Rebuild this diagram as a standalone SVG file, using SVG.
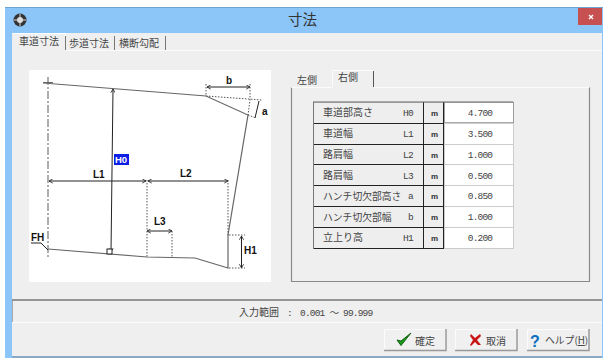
<svg xmlns="http://www.w3.org/2000/svg" width="603" height="358" viewBox="0 0 603 358">
<style>
text{font-family:"Noto Sans CJK JP","Liberation Sans",sans-serif;font-size:10px;fill:#444}
.m{font-family:"Liberation Mono","Noto Sans CJK JP",monospace;font-size:9.500px;fill:#444;letter-spacing:-.8px}
.u{font-family:"Liberation Sans",sans-serif;font-weight:bold;font-size:8px;fill:#333}
.b{font-family:"Liberation Sans",sans-serif;font-weight:bold;font-size:10px;fill:#111}
.s{fill:none;stroke:#222;stroke-width:1}
.g{fill:none;stroke:#666;stroke-width:1.200}
.d{fill:none;stroke:#555;stroke-width:1;stroke-dasharray:1.500 1.500}
.c{fill:#eeeeee;stroke:#bbb;stroke-width:1}
.v{fill:#fff;stroke:#ccc;stroke-width:1}
.k{fill:none;stroke:#222;stroke-width:1}
.btn{fill:#f0f0f0;stroke:#fbfbfb;stroke-width:1}
.bs{fill:none;stroke:#999;stroke-width:1.500}
</style>
<defs>
<marker id="a" viewBox="0 0 6 6" refX="5.500" refY="3" markerWidth="5" markerHeight="5" orient="auto-start-reverse"><path d="M1 .5L5.500 3L1 5.500" fill="none" stroke="#222" stroke-width="1"/></marker>
</defs>
<rect width="603" height="358" fill="#fff"/>
<rect x="5" y="7" width="598" height="351" fill="#8cc5f8"/>
<rect x="5" y="7" width="598" height="1" fill="#6fa3cc"/>
<rect x="12" y="33" width="590" height="324" fill="#efefef"/>
<rect x="12" y="356" width="590" height="2" fill="#8aa9c4"/>
<g id="title">
<circle cx="20" cy="20" r="6.500" fill="#333"/><circle cx="20" cy="20" r="3" fill="#ddd"/><path d="M14 20H26M20 14V26" stroke="#ddd" stroke-width="1"/>
<text x="288" y="25" style="font-size:14.500px;fill:#333">寸法</text>
<rect x="578" y="8" width="24" height="17" fill="#c75050"/>
<path d="M589 15l4 4M593 15l-4 4" stroke="#fff" stroke-width="1.400"/>
</g>
<g id="main-tabs">
<path d="M66 50.500H602" stroke="#fafafa" stroke-width="1" fill="none"/>
<path d="M13 33.500H65.500V50" fill="none" stroke="#fff"/>
<path d="M65.500 36V50M114.500 36V50M165.500 36V50" stroke="#777" stroke-width="1" fill="none"/>
<text x="19" y="45">車道寸法</text><text x="69" y="47">歩道寸法</text><text x="119" y="47">横断勾配</text>
</g>
<g id="drawing">
<rect x="29" y="70" width="242" height="212" fill="#fff"/>
<path class="g" d="M43 83L206 96L248 115L228 235V268L195 258L147 257L48 249"/>
<path d="M48 77V259" fill="none" stroke="#777" stroke-width="1.200" stroke-dasharray="8 2 2 2"/>
<path d="M43 82.500H53" stroke="#666" fill="none"/>
<path class="s" d="M113 89L111 252" marker-start="url(#a)" marker-end="url(#a)"/>
<rect x="107" y="249" width="5" height="5" fill="#fff" stroke="#222"/>
<path class="s" d="M49 181H146" marker-start="url(#a)" marker-end="url(#a)"/>
<path class="s" d="M148 181H228" marker-start="url(#a)" marker-end="url(#a)"/>
<path class="s" d="M147 231H172" marker-start="url(#a)" marker-end="url(#a)"/>
<path class="s" d="M241.500 236V268" marker-start="url(#a)" marker-end="url(#a)"/>
<path class="s" d="M207 87H250" marker-start="url(#a)" marker-end="url(#a)"/>
<path class="s" d="M259 101L255 118"/>
<path class="d" d="M147 180V257M172 231V257M228 180V235M229 235H245M229 268H245M206 84V96M250 84V100L248 115M206 96L262 100M248 115L256 118"/>
<path class="s" d="M31 243H41L48 250"/>
<rect x="114" y="154" width="15" height="11" fill="#0a1ee6"/>
<text class="b" x="115" y="163" style="fill:#fff;font-size:9.500px">H0</text>
<text class="b" x="93" y="178">L1</text><text class="b" x="180" y="177">L2</text>
<text class="b" x="154" y="225">L3</text><text class="b" x="244" y="254">H1</text>
<text class="b" x="31" y="241">FH</text><text class="b" x="226" y="84">b</text>
<text class="b" x="262" y="115">a</text>
</g>
<g id="side-tabs">
<path d="M291.500 87.500V281.500H589.500V87.500" fill="none" stroke="#8a8a8a" stroke-width="1.200"/>
<path d="M291.500 87.500H332M374 87.500H589" fill="none" stroke="#fbfbfb"/>
<path d="M332.500 87V70.500H373.500V87" fill="none" stroke="#fbfbfb"/>
<path d="M373.500 71V87" stroke="#555" fill="none"/>
<text x="297" y="84">左側</text><text x="338" y="81">右側</text>
</g>
<g id="table">
<rect x="313" y="101" width="201" height="148" fill="#ddd"/>
<g id="row-h0"><rect class="c" x="313.500" y="102.500" width="110" height="21"/><rect class="c" x="423.500" y="102.500" width="20" height="21"/><rect class="v" x="444.500" y="102.500" width="69" height="21"/><text x="323" y="116">車道部高さ</text><text class="m" x="403" y="116">H0</text><text class="u" x="431" y="116">m</text><text class="m" x="480" y="116" text-anchor="middle">4.700</text></g>
<g id="row-l1"><rect class="c" x="313.500" y="123.500" width="110" height="21"/><rect class="c" x="423.500" y="123.500" width="20" height="21"/><rect class="v" x="444.500" y="123.500" width="69" height="21"/><text x="323" y="137">車道幅</text><text class="m" x="403" y="137">L1</text><text class="u" x="431" y="137">m</text><text class="m" x="480" y="137" text-anchor="middle">3.500</text></g>
<g id="row-l2"><rect class="c" x="313.500" y="144.500" width="110" height="20"/><rect class="c" x="423.500" y="144.500" width="20" height="20"/><rect class="v" x="444.500" y="144.500" width="69" height="20"/><text x="323" y="158">路肩幅</text><text class="m" x="403" y="158">L2</text><text class="u" x="431" y="158">m</text><text class="m" x="480" y="158" text-anchor="middle">1.000</text></g>
<g id="row-l3"><rect class="c" x="313.500" y="164.500" width="110" height="21"/><rect class="c" x="423.500" y="164.500" width="20" height="21"/><rect class="v" x="444.500" y="164.500" width="69" height="21"/><text x="323" y="179">路肩幅</text><text class="m" x="403" y="179">L3</text><text class="u" x="431" y="179">m</text><text class="m" x="480" y="179" text-anchor="middle">0.500</text></g>
<g id="row-a"><rect class="c" x="313.500" y="185.500" width="110" height="21"/><rect class="c" x="423.500" y="185.500" width="20" height="21"/><rect class="v" x="444.500" y="185.500" width="69" height="21"/><text x="323" y="200" style="font-size:9.800px">ハンチ切欠部高さ</text><text class="m" x="408" y="199">a</text><text class="u" x="431" y="199">m</text><text class="m" x="480" y="199" text-anchor="middle">0.850</text></g>
<g id="row-b"><rect class="c" x="313.500" y="206.500" width="110" height="21"/><rect class="c" x="423.500" y="206.500" width="20" height="21"/><rect class="v" x="444.500" y="206.500" width="69" height="21"/><text x="323" y="221" style="font-size:9.800px">ハンチ切欠部幅</text><text class="m" x="408" y="220">b</text><text class="u" x="431" y="220">m</text><text class="m" x="480" y="220" text-anchor="middle">1.000</text></g>
<g id="row-h1"><rect class="c" x="313.500" y="227.500" width="110" height="21"/><rect class="c" x="423.500" y="227.500" width="20" height="21"/><rect class="v" x="444.500" y="227.500" width="69" height="21"/><text x="323" y="241">立上り高</text><text class="m" x="403" y="241">H1</text><text class="u" x="431" y="241">m</text><text class="m" x="480" y="241" text-anchor="middle">0.200</text></g>
<path class="k" d="M314 123.500H444M314 144.500H444M314 164.500H444M314 185.500H444M314 206.500H444M314 227.500H444M314 248.500H444M423.500 102V249M443.500 102V249"/>
<path d="M313.500 102V249M313 102H513" stroke="#777" fill="none"/>
<rect x="444.500" y="102.500" width="69" height="20" fill="#fff" stroke="#555" stroke-dasharray="1 1"/>
<text class="m" x="480" y="116" text-anchor="middle">4.700</text>
</g>
<g id="status">
<path d="M12 300H602" stroke="#777" stroke-width="1.500"/>
<path d="M12.500 301V322" stroke="#aaa"/>
<path d="M12 322.500H602" stroke="#fbfbfb"/>
<text x="239" y="316">入力範囲</text>
<text class="m" x="287" y="316">:</text>
<text class="m" x="300" y="316">0.001 ～ 99.999</text>
</g>
<g id="btn-ok"><rect class="btn" x="384.500" y="329.500" width="61" height="21"/><path class="bs" d="M384 350.500H446V329"/><path d="M397 340l4 5.500l10-12.500l-10 8z" fill="#1c9a1c" stroke="#126012" stroke-width="1"/><text x="415" y="345">確定</text></g>
<g id="btn-cancel"><rect class="btn" x="455.500" y="329.500" width="61" height="21"/><path class="bs" d="M455 350.500H517V329"/><path d="M471 334l4 4l5-4l1 2l-4 4l4 5l-3 0l-3-3l-4 4l-1-1l3-5l-3-4z" fill="#c81414"/><text x="486" y="345">取消</text></g>
<g id="btn-help"><rect class="btn" x="527.500" y="329.500" width="61" height="21"/><path class="bs" d="M527 350.500H589V329"/><text x="530" y="347" style="font-family:'Liberation Sans',sans-serif;font-weight:bold;font-size:16px;fill:#0a6fc0">?</text><text x="545" y="344" style="font-size:9.800px">ヘルプ(<tspan text-decoration="underline">H</tspan>)</text></g>
</svg>
